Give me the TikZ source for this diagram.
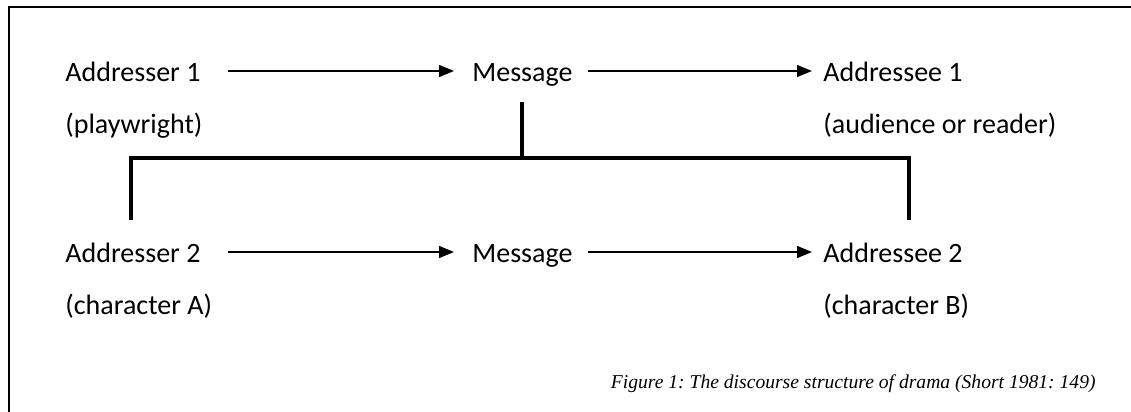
\documentclass[tikz,border=0pt]{standalone}
\usepackage{fontspec}
\setmainfont{Carlito}
\newfontfamily\capfont{Liberation Serif}
\usetikzlibrary{arrows.meta,positioning}

\begin{document}
\begin{tikzpicture}[x=0.5pt,y=-0.5pt,on grid,auto]

  \tikzset{word/.style={anchor=base west,inner sep=0pt,text height=10pt,text depth=0pt,font=\fontsize{14pt}{16pt}\selectfont},
    caption/.style={anchor=base east,inner sep=0pt,font=\capfont\itshape\frenchspacing\fontsize{9.8pt}{12pt}\selectfont},
    flow/.style={line width=0.7pt,-{Triangle[length=7.5pt,width=6pt]}},
    bar/.style={line width=2pt},
    frame/.style={line width=0.9pt}}

  \useasboundingbox (0,0) rectangle (1131,412);
  \draw[frame] (9,412) -- (9,7) -- (1131,7);

  \node[word] (adr1) at (65,81) {Addresser 1};
  \node (msg1) [right=203.5pt of adr1.base west,word] {Message};
  \node (ade1) [right=175.5pt of msg1.base west,word] {Addressee 1};
  \node (who1) [below=26pt of adr1.base west,word] {(playwright)};
  \node (whom1) [below=26pt of ade1.base west,word] {(audience or reader)};

  \node (adr2) [below=90.5pt of adr1.base west,word] {Addresser 2};
  \node (msg2) [right=203.5pt of adr2.base west,word] {Message};
  \node (ade2) [right=175.5pt of msg2.base west,word] {Addressee 2};
  \node (who2) [below=26pt of adr2.base west,word] {(character A)};
  \node (whom2) [below=26pt of ade2.base west,word] {(character B)};

  \node[caption] (cap) at (1096,388) {Figure 1: The discourse structure of drama (Short 1981: 149)};

  \path[flow]
  (adr1)
  edge [shorten <=13.5pt,shorten >=9pt] (msg1)
  (msg1)
  edge [shorten <=7.5pt,shorten >=5.5pt] (ade1)
  (adr2)
  edge [shorten <=13.5pt,shorten >=9pt] (msg2)
  (msg2)
  edge [shorten <=7.5pt,shorten >=5.5pt] (ade2)
  ;

  % level 1 hangs its embedded level 2 from the message
  \coordinate (joinL) at (131,158);
  \coordinate (joinR) at (909,158);
  \draw[bar] ([yshift=-10.5pt]msg1.south) -- (msg1.south |- joinL);
  \draw[bar] ([yshift=11pt]adr2.north -| joinL) -- (joinL) -- (joinR) -- ([yshift=11pt]ade2.north -| joinR);
\end{tikzpicture}
\end{document}
